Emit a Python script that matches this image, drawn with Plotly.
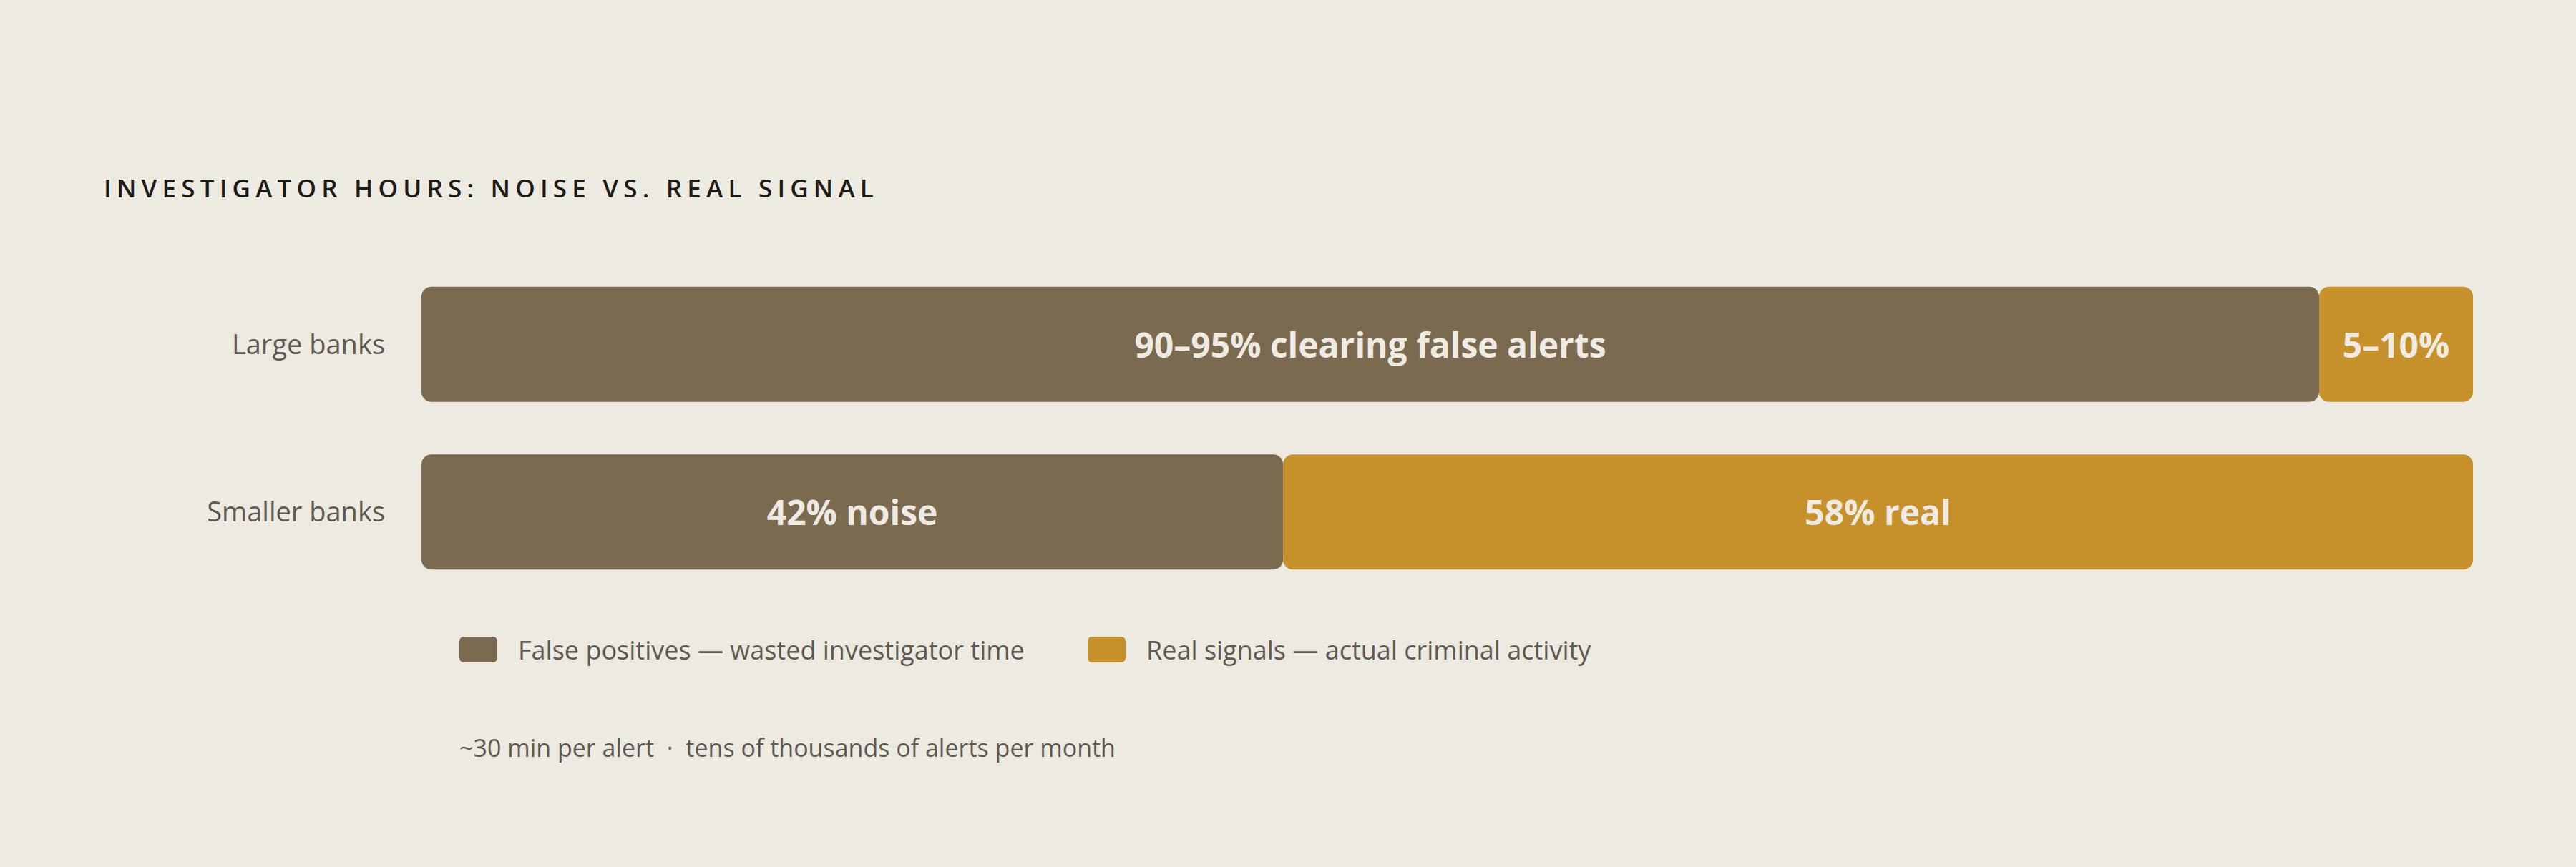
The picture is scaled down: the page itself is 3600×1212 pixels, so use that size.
import plotly.graph_objects as go

# data
categories = ["Large banks", "Smaller banks"]
false_pos = [92.5, 42]
real = [7.5, 58]
false_labels = ["90–95% clearing false alerts", "42% noise"]
real_labels = ["5–10%", "58% real"]
legend_names = [
    "False positives — wasted investigator time",
    "Real signals — actual criminal activity",
]
footnote = "~30 min per alert  ·  tens of thousands of alerts per month"
title = "INVESTIGATOR HOURS: NOISE VS. REAL SIGNAL"

BG = "#EDEAE2"
BROWN = "#7A6A50"
GOLD = "#C6912B"
CREAM = "#EFEBE2"
GREY = "#5E5A53"
FONT = "Open Sans"

W, H = 3600, 1212
ML, MR, MT, MB = 589, 144, 364, 379
plot_w = W - ML - MR
plot_h = H - MT - MB


def px_x(px):
    return (px - ML) / plot_w


def px_y(py):
    return (H - MB - py) / plot_h


def rounded_rect(x0, y0, x1, y1, r):
    # path in paper coords for a rounded rectangle given in pixels
    rx = r / plot_w
    ry = r / plot_h
    a, b, c, d = px_x(x0), px_x(x1), px_y(y0), px_y(y1)
    return (
        f"M {a + rx},{c} L {b - rx},{c} Q {b},{c} {b},{c - ry} "
        f"L {b},{d + ry} Q {b},{d} {b - rx},{d} L {a + rx},{d} "
        f"Q {a},{d} {a},{d + ry} L {a},{c - ry} Q {a},{c} {a + rx},{c} Z"
    )


bar_font = {"family": FONT, "size": 48, "color": CREAM, "weight": 700}

fig = go.Figure()

# false positives: drawn from its end back to 0 so the left end gets rounded
fig.add_trace(
    go.Bar(
        y=categories,
        x=[-v for v in false_pos],
        base=false_pos,
        orientation="h",
        width=0.687,
        marker={"color": BROWN, "cornerradius": 14, "line": {"width": 0}},
        text=false_labels,
        textposition="inside",
        insidetextanchor="middle",
        textangle=0,
        textfont=bar_font,
        hoverinfo="skip",
        showlegend=False,
    )
)

fig.add_trace(
    go.Bar(
        y=categories,
        x=real,
        base=false_pos,
        orientation="h",
        width=0.687,
        marker={"color": GOLD, "cornerradius": 14, "line": {"width": 0}},
        text=real_labels,
        textposition="inside",
        insidetextanchor="middle",
        textangle=0,
        textfont=bar_font,
        hoverinfo="skip",
        showlegend=False,
    )
)

# legend drawn by hand so the swatches can be big and rounded
shapes = []
annotations = []
legend_items = [(642, 722, BROWN, legend_names[0]), (1520, 1600, GOLD, legend_names[1])]
for sw_x, txt_x, color, name in legend_items:
    shapes.append(
        {
            "type": "path",
            "xref": "paper",
            "yref": "paper",
            "path": rounded_rect(sw_x, 890, sw_x + 53, 926, 7),
            "fillcolor": color,
            "line": {"width": 0},
        }
    )
    annotations.append(
        {
            "xref": "paper",
            "yref": "paper",
            "x": px_x(txt_x),
            "y": px_y(908),
            "xanchor": "left",
            "yanchor": "middle",
            "text": name,
            "showarrow": False,
            "font": {"family": FONT, "size": 36, "color": GREY},
        }
    )

annotations.append(
    {
        "xref": "paper",
        "yref": "paper",
        "x": px_x(640),
        "y": px_y(1045),
        "xanchor": "left",
        "yanchor": "middle",
        "text": footnote,
        "showarrow": False,
        "font": {"family": FONT, "size": 34, "color": GREY},
    }
)

fig.update_layout(
    width=W,
    height=H,
    barmode="overlay",
    paper_bgcolor=BG,
    plot_bgcolor=BG,
    margin={"l": ML, "r": MR, "t": MT, "b": MB},
    title={
        "text": f'<span style="letter-spacing:7.2px">{title}</span>',
        "xref": "container",
        "yref": "container",
        "x": 145 / W,
        "y": 1 - 264 / H,
        "xanchor": "left",
        "yanchor": "middle",
        "font": {"family": FONT, "size": 35, "color": "#1E1B17", "weight": 600},
    },
    xaxis={
        "range": [0, 100],
        "visible": False,
        "fixedrange": True,
    },
    yaxis={
        "range": [1.5, -0.5],
        "showgrid": False,
        "zeroline": False,
        "showline": False,
        "ticks": "",
        "ticklabelstandoff": 50,
        "tickfont": {"family": FONT, "size": 38, "color": GREY},
        "fixedrange": True,
    },
    shapes=shapes,
    annotations=annotations,
)

fig.write_html(
    "out.html",
    config={"displayModeBar": False},
    post_script="document.body.style.margin='0';",
)
